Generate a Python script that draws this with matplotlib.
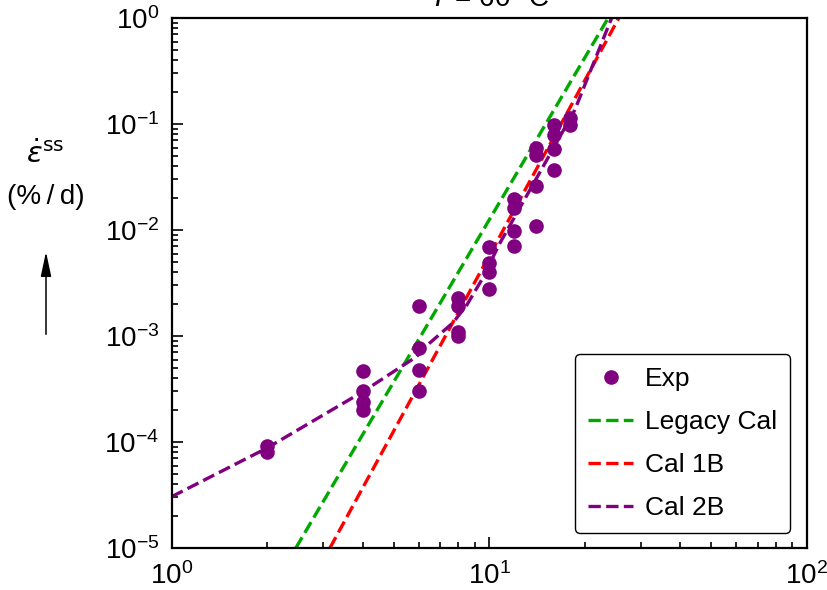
import matplotlib
matplotlib.use('Agg')
import matplotlib.pyplot as plt

plt.rcParams['font.family'] = ['Liberation Sans', 'DejaVu Sans']

# experimental points (stress, strain rate)
exp_stress = [2, 2,
              4, 4, 4, 4,
              6, 6, 6, 6,
              8, 8, 8, 8,
              10, 10, 10, 10,
              12, 12, 12, 12,
              14, 14, 14, 14,
              16, 16, 16, 16,
              18, 18]
exp_rate = [9.2e-5, 8.1e-5,
            4.7e-4, 3.0e-4, 2.4e-4, 2.0e-4,
            1.9e-3, 7.7e-4, 4.8e-4, 3.0e-4,
            2.3e-3, 1.9e-3, 1.1e-3, 1.0e-3,
            6.9e-3, 4.9e-3, 4.0e-3, 2.8e-3,
            1.96e-2, 1.6e-2, 9.8e-3, 7.1e-3,
            5.9e-2, 5.1e-2, 2.6e-2, 1.1e-2,
            9.8e-2, 7.9e-2, 5.8e-2, 3.7e-2,
            0.114, 0.098]

# model curves
legacy_x = [2.46, 23.7]
legacy_y = [1e-5, 1.0]
cal1b_x = [3.15, 25.6]
cal1b_y = [1e-5, 1.0]
cal2b_x = [1.0, 1.99, 4.0, 5.9, 6.5, 7.68, 8.5, 9.48, 10.8, 14.4, 18.6, 24.3]
cal2b_y = [3.05e-5, 8.73e-5, 2.98e-4, 6.38e-4, 8.6e-4, 1.33e-3, 1.96e-3,
           3.4e-3, 7.5e-3, 3.45e-2, 0.1355, 1.0]

fig = plt.figure(figsize=(8.27, 5.9), dpi=100)
ax = fig.add_axes([171.7 / 827, 1 - 548 / 590, 635 / 827, 530 / 590])

ax.plot(exp_stress, exp_rate, 'o', color='#800080', ms=9.5, label='Exp', zorder=3)
ax.plot(legacy_x, legacy_y, '--', color='#00a800', lw=2.4, label='Legacy Cal')
ax.plot(cal1b_x, cal1b_y, '--', color='#ff0000', lw=2.4, label='Cal 1B')
ax.plot(cal2b_x, cal2b_y, '--', color='#800080', lw=2.4, label='Cal 2B')

ax.set_xscale('log')
ax.set_yscale('log')
ax.set_xlim(1, 100)
ax.set_ylim(1e-5, 1)

for s in ax.spines.values():
    s.set_linewidth(1.6)
ax.tick_params(which='both', direction='in', labelsize=20, width=1.2)
ax.tick_params(which='major', length=8, pad=9)
ax.tick_params(which='minor', length=4)
ax.tick_params(axis='x', which='major', pad=10)

ax.set_title('$T$ = 60 °C', fontsize=20, pad=9)

fig.text(45 / 827, 1 - 155 / 590, r'$\dot{\varepsilon}^{\rm ss}$', fontsize=21,
         ha='center', va='center')
fig.text(46 / 827, 1 - 197 / 590, '(%\u2009/\u2009d)', fontsize=20,
         ha='center', va='center')
fig.patches.append(matplotlib.patches.FancyArrowPatch(
    (46 / 827, 1 - 337 / 590), (46 / 827, 1 - 249 / 590),
    transform=fig.transFigure, arrowstyle='-|>,head_length=15,head_width=3.2',
    color='black', lw=1.1, mutation_scale=1))

leg = ax.legend(loc='lower right', bbox_to_anchor=(0.974, 0.028), borderaxespad=0,
                fontsize=19, frameon=True, fancybox=True, edgecolor='black',
                framealpha=1, handlelength=1.7, labelspacing=0.72,
                borderpad=0.5, handletextpad=0.45)
leg.get_frame().set_linewidth(1.0)

fig.savefig('out.png', dpi=100)
